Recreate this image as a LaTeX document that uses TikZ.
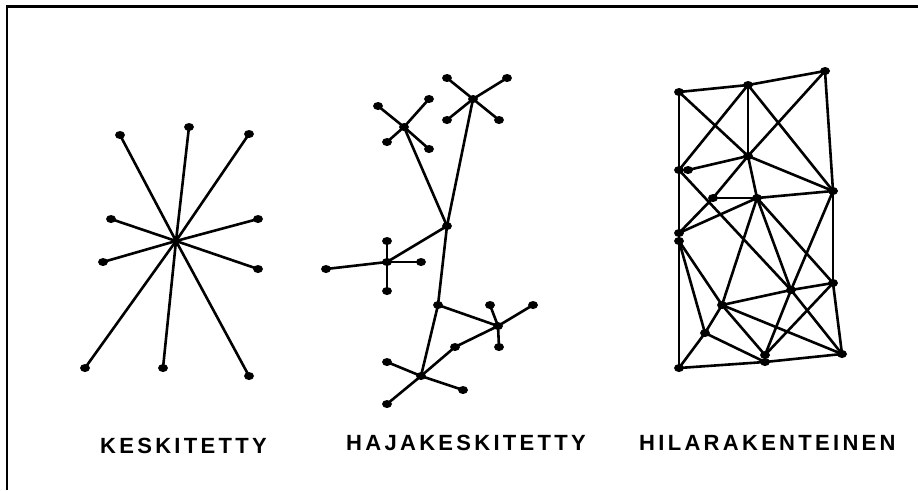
\documentclass[tikz,border=0pt]{standalone}
\usepackage{fontspec}
\setmainfont{Liberation Sans}
\usetikzlibrary{shapes.geometric}
\tikzset{
  edge/.style={line width=2.6pt, black},
  dot/.style={ellipse, fill=black, inner sep=0pt, minimum width=10pt, minimum height=8pt},
  frame/.style={line width=2.8pt, black},
  lbl/.style={inner sep=0pt, anchor=base west, font=\fontsize{22}{26}\selectfont\bfseries\addfontfeature{LetterSpace=15}}
}
\begin{document}
\begin{tikzpicture}[x=1pt,y=-1pt]
\useasboundingbox (0,0) rectangle (918,490);
% frame
\coordinate (f1) at (7,490);
\coordinate (f2) at (7,6.5);
\coordinate (f3) at (918,6.5);
\draw[frame] (f1) -- (f2) -- (f3);

% ---------- star ----------
\coordinate (S0) at (176,241);
\foreach \n/\x/\y in {s1/120/135, s2/189/127, s3/249/134, s4/111/219, s5/258/219,
                      s6/103/262, s7/258/269, s8/85/368, s9/163/368, s10/249/376}{
  \coordinate (\n) at (\x,\y);
  \draw[edge] (S0) -- (\n);
}
\foreach \n in {s1,s2,s3,s4,s5,s6,s7,s8,s9,s10}{ \node[dot] at (\n) {}; }

% ---------- decentralised ----------
\foreach \n/\x/\y in {A/404/127, a1/378/106, a2/429/99, a3/387/142, a4/429/149,
  B/473/99, b1/447/78, b2/507/78, b3/447/120, b4/499/120,
  H/447/226,
  C/387/262, c1/387/241, c2/326/269, c3/421/262, c4/387/291,
  J/438/305,
  D/498/326, d1/490/305, d2/533/305, d3/499/347,
  K/455/347,
  E/421/376, e1/387/362, e2/463/390, e3/387/404}{
  \coordinate (\n) at (\x,\y);
}
\foreach \u/\v in {A/a1, A/a2, A/a3, A/a4, B/b1, B/b2, B/b3, B/b4, A/H, B/H,
  H/C, C/c1, C/c2, C/c3, C/c4, H/J, J/E, J/D, D/d1, D/d2, D/d3, D/K, K/E,
  E/e1, E/e2, E/e3}{
  \draw[edge] (\u) -- (\v);
}
\foreach \n in {A,a1,a2,a3,a4,B,b1,b2,b3,b4,H,C,c1,c2,c3,c4,J,D,d1,d2,d3,K,E,e1,e2,e3}{
  \node[dot] at (\n) {};
}

% ---------- mesh ----------
\foreach \n/\x/\y in {TL/679/92, TM/748/85, TR/825/71, La/679/170, Lb/688/170,
  M/748/156, R/833/191, N7/713/198, N8/757/198, Pa/679/233, Pb/679/241,
  N10/722/305, N11/791/290, N12/833/283, N13/705/333, Qa/765/355, Qb/765/362,
  BL/679/368, BR/842/354}{
  \coordinate (\n) at (\x,\y);
}
\foreach \u/\v in {TL/TM, TM/TR, TL/BL, TM/M, TL/M, TM/La, TM/R, TR/M, TR/R,
  R/N12, N12/BR, Lb/M, M/R, M/N8, M/N7, N7/Pa, La/N11, N11/BR, N7/N8, N8/R,
  Pa/N8, N8/N10, N8/N11, N8/N12, R/N11, Pb/N10, Pb/N13, N10/N11, N11/N12,
  N10/N13, N10/BR, N10/Qa, N11/Qa, N12/Qa, N13/Qb, N13/BL, BL/Qb, Qb/BR}{
  \draw[edge] (\u) -- (\v);
}
\foreach \n in {TL,TM,TR,La,Lb,M,R,N7,N8,Pa,Pb,N10,N11,N12,N13,Qa,Qb,BL,BR}{
  \node[dot] at (\n) {};
}

% ---------- labels ----------
\node[lbl] (t1) at (100,453) {KESKITETTY};
\node[lbl] (t2) at (346,450) {HAJAKESKITETTY};
\node[lbl] (t3) at (639,450) {HILARAKENTEINEN};
\end{tikzpicture}
\end{document}
